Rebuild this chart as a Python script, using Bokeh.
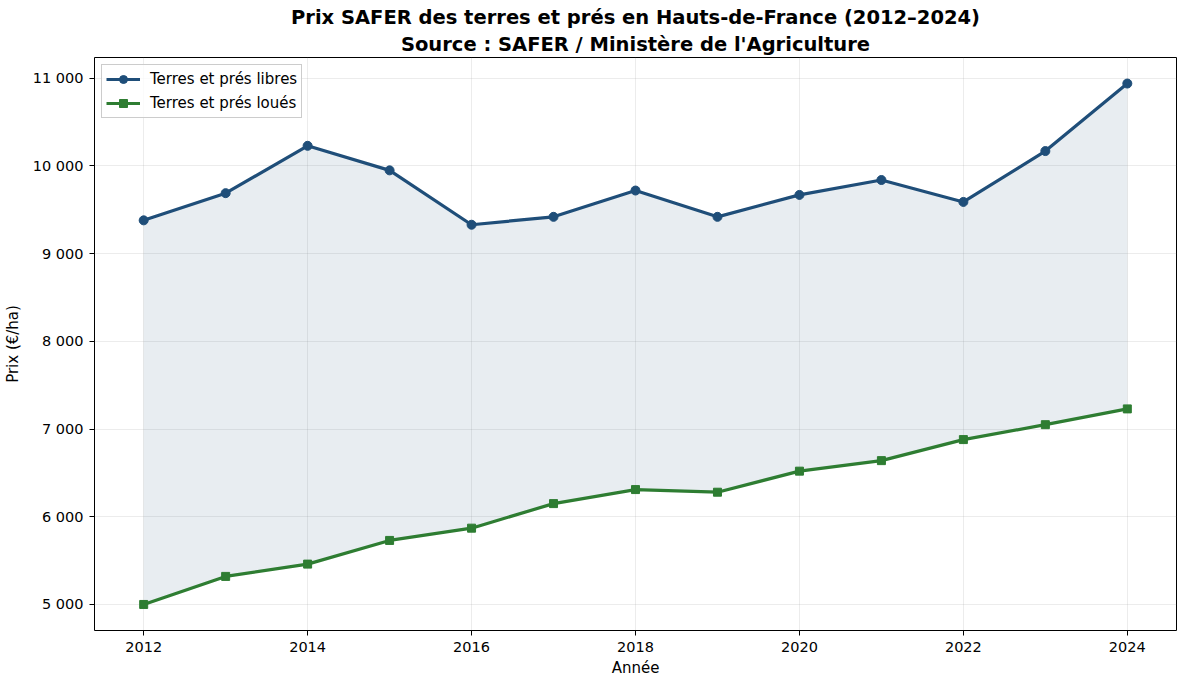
from bokeh.plotting import figure
from bokeh.models import CustomJSTickFormatter, FixedTicker, Range1d, Title
from bokeh.embed import file_html
from bokeh.resources import INLINE

years = [2012, 2013, 2014, 2015, 2016, 2017, 2018, 2019, 2020, 2021, 2022, 2023, 2024]
libres = [9380, 9690, 10230, 9950, 9330, 9420, 9720, 9420, 9670, 9840, 9590, 10170, 10940]
loues = [5000, 5320, 5460, 5730, 5870, 6150, 6310, 6280, 6520, 6640, 6880, 7050, 7230]
x_ticks = [2012, 2014, 2016, 2018, 2020, 2022, 2024]
y_ticks = [5000, 6000, 7000, 8000, 9000, 10000, 11000]
title_line1 = "Prix SAFER des terres et prés en Hauts-de-France (2012–2024)"
title_line2 = "Source : SAFER / Ministère de l'Agriculture"

FONT = "DejaVu Sans"
BLUE = "#1f4e79"
GREEN = "#2e7d32"

p = figure(width=1184, height=679, output_backend="svg", toolbar_location=None,
           x_range=Range1d(2011.4, 2024.6), y_range=Range1d(4703, 11237),
           min_border_left=94, min_border_right=8, min_border_top=57, min_border_bottom=48)

# p.title is the outermost; the added Title sits between it and the plot
p.title.text = title_line1
p.title.align = "center"
p.title.text_font = FONT
p.title.text_font_size = "19.5px"
p.title.text_font_style = "bold"
p.title.text_color = "black"
p.title.standoff = 1
p.title.offset = 0

t2 = Title(text=title_line2, align="center", text_font=FONT, text_font_size="19.5px",
           text_font_style="bold", text_color="black", standoff=3)
p.add_layout(t2, "above")

p.varea(x=years, y1=loues, y2=libres, fill_color=BLUE, fill_alpha=0.1)

p.line(years, libres, line_color=BLUE, line_width=3.2, legend_label="Terres et prés libres")
p.scatter(years, libres, marker="circle", size=9, fill_color=BLUE, line_color=BLUE,
          legend_label="Terres et prés libres")
p.line(years, loues, line_color=GREEN, line_width=3.2, legend_label="Terres et prés loués")
p.scatter(years, loues, marker="square", size=8, fill_color=GREEN, line_color=GREEN,
          legend_label="Terres et prés loués")

p.xaxis.ticker = FixedTicker(ticks=x_ticks)
p.yaxis.ticker = FixedTicker(ticks=y_ticks)
p.yaxis.formatter = CustomJSTickFormatter(code="""
    return Math.round(tick).toString().replace(/\\B(?=(\\d{3})+(?!\\d))/g, ' ');
""")

for ax in (p.xaxis, p.yaxis):
    ax.axis_line_color = None
    ax.major_tick_out = 5
    ax.major_tick_in = 0
    ax.minor_tick_out = 0
    ax.minor_tick_in = 0
    ax.major_tick_line_color = "black"
    ax.major_label_text_font = FONT
    ax.major_label_text_font_size = "14.5px"
    ax.major_label_text_color = "black"
    ax.major_label_standoff = 6
    ax.axis_label_text_font = FONT
    ax.axis_label_text_font_size = "15px"
    ax.axis_label_text_font_style = "normal"
    ax.axis_label_text_color = "black"

p.xaxis.axis_label = "Année"
p.yaxis.axis_label = "Prix (€/ha)"
p.xaxis.axis_label_standoff = 4
p.yaxis.axis_label_standoff = 8

p.outline_line_color = "black"
p.outline_line_width = 1
p.outline_line_alpha = 1

p.xgrid.grid_line_color = "#b0b0b0"
p.ygrid.grid_line_color = "#b0b0b0"
p.xgrid.grid_line_alpha = 0.3
p.ygrid.grid_line_alpha = 0.3
p.xgrid.grid_line_width = 0.8
p.ygrid.grid_line_width = 0.8

p.legend.location = "top_left"
p.legend.label_text_font = FONT
p.legend.label_text_font_size = "15px"
p.legend.label_text_color = "black"
p.legend.border_line_color = "#cccccc"
p.legend.border_line_alpha = 1
p.legend.background_fill_alpha = 0.8
p.legend.glyph_width = 34
p.legend.glyph_height = 20
p.legend.label_standoff = 10
p.legend.label_height = 20
p.legend.spacing = 4
p.legend.padding = 4
p.legend.margin = 7

open("out.html", "w").write(file_html(p, INLINE))
